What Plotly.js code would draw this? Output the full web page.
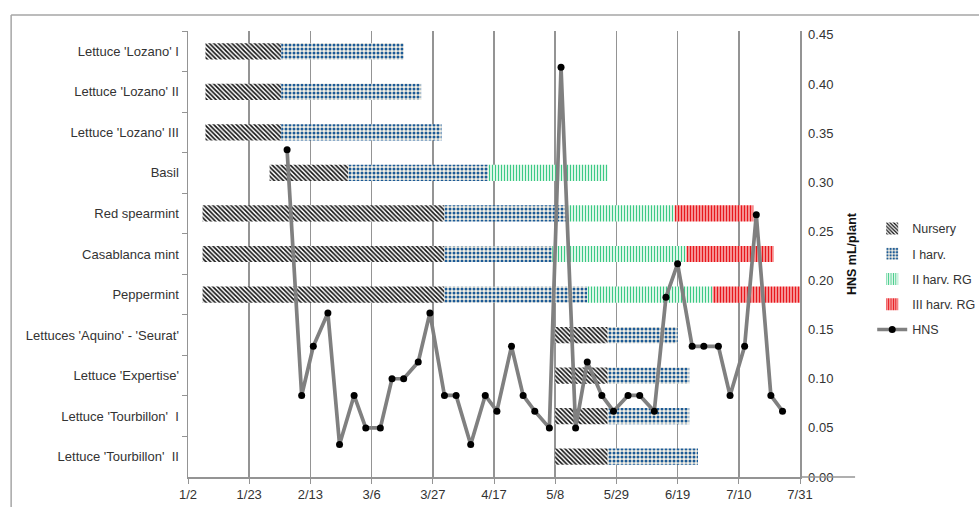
<!DOCTYPE html>
<html>
<head>
<meta charset="utf-8">
<script src="https://cdn.plot.ly/plotly-3.0.1.min.js"></script>
<style>html,body{margin:0;padding:0;background:#fff;}#chart{width:979px;height:507px;}</style>
</head>
<body>
<div id="chart"></div>
<script>
// ---- data ----
const crops = ["Lettuce 'Lozano' I", "Lettuce 'Lozano' II", "Lettuce 'Lozano' III", "Basil",
  "Red spearmint", "Casablanca mint", "Peppermint", "Lettuces 'Aquino' - 'Seurat'",
  "Lettuce 'Expertise'", "Lettuce 'Tourbillon'  I", "Lettuce 'Tourbillon'  II"];
const nurseryStart = ["2019-01-08","2019-01-08","2019-01-08","2019-01-30","2019-01-07","2019-01-07","2019-01-07","2019-05-08","2019-05-08","2019-05-08","2019-05-08"];
const nurseryEnd   = ["2019-02-03","2019-02-03","2019-02-03","2019-02-26","2019-03-31","2019-03-31","2019-03-31","2019-05-26","2019-05-26","2019-05-26","2019-05-26"];
const harv1End     = ["2019-03-17","2019-03-23","2019-03-30","2019-04-15","2019-05-12","2019-05-07","2019-05-19","2019-06-19","2019-06-23","2019-06-23","2019-06-26"];
const harv2End     = [null,null,null,"2019-05-26","2019-06-18","2019-06-22","2019-07-01",null,null,null,null];
const harv3End     = [null,null,null,null,"2019-07-15","2019-07-22","2019-07-31",null,null,null,null];

const hnsDates = ["2019-02-05","2019-02-10","2019-02-14","2019-02-19","2019-02-23","2019-02-28","2019-03-04","2019-03-09",
  "2019-03-13","2019-03-17","2019-03-22","2019-03-26","2019-03-31","2019-04-04","2019-04-09","2019-04-14",
  "2019-04-18","2019-04-23","2019-04-27","2019-05-01","2019-05-06","2019-05-10","2019-05-15","2019-05-19",
  "2019-05-24","2019-05-28","2019-06-02","2019-06-06","2019-06-11","2019-06-15","2019-06-19","2019-06-24",
  "2019-06-28","2019-07-03","2019-07-07","2019-07-12","2019-07-16","2019-07-21","2019-07-25"];
const hnsValues = [0.333,0.083,0.133,0.167,0.033,0.083,0.050,0.050,
  0.100,0.100,0.117,0.167,0.083,0.083,0.033,0.083,
  0.067,0.133,0.083,0.067,0.050,0.417,0.050,0.117,
  0.083,0.067,0.083,0.083,0.067,0.183,0.217,0.133,
  0.133,0.133,0.083,0.133,0.267,0.083,0.067];

const xTickStart = "2019-01-02";
const xEnd = "2019-07-31";

// ---- build ----
const ms = d => Date.parse(d + "T00:00:00Z");
function phase(starts, ends) {
  const y = [], base = [], x = [];
  for (let i = 0; i < crops.length; i++) {
    if (starts[i] && ends[i]) { y.push(crops[i]); base.push(starts[i]); x.push(ms(ends[i]) - ms(starts[i])); }
  }
  return {y, base, x};
}
const FONT = "'Liberation Sans', Arial, sans-serif";
const BW = 0.4;
function barTrace(name, p, pat) {
  return {type: "bar", orientation: "h", name: name, y: p.y, base: p.base, x: p.x,
    width: p.y.map(() => BW), xaxis: "x", yaxis: "y", legendgroup: name,
    marker: {color: pat.bg, line: {width: 0}, pattern: pat}, hoverinfo: "skip"};
}
const traces = [
  barTrace("Nursery", phase(nurseryStart, nurseryEnd), {shape: "\\", fgcolor: "#111111", bgcolor: "#ffffff", size: 3.2, solidity: 0.5, fillmode: "replace"}),
  barTrace("I harv.", phase(nurseryEnd, harv1End), {shape: ".", fgcolor: "#1c5a96", bgcolor: "#f4f0e4", size: 4, solidity: 0.45, fillmode: "replace"}),
  barTrace("II harv. RG", phase(harv1End, harv2End), {shape: "|", fgcolor: "#3cc985", bgcolor: "#ddf6e8", size: 3, solidity: 0.35, fillmode: "replace"}),
  barTrace("III harv. RG", phase(harv2End, harv3End), {shape: "|", fgcolor: "#e8161c", bgcolor: "#f8a9aa", size: 3, solidity: 0.45, fillmode: "replace"}),
  {type: "scatter", mode: "lines+markers", name: "HNS", x: hnsDates, y: hnsValues, xaxis: "x", yaxis: "y2",
   legendgroup: "HNS", line: {color: "#808080", width: 3.7}, marker: {color: "#000000", size: 7}, hoverinfo: "skip"}
];

const layout = {
  width: 979, height: 507,
  margin: {l: 188, r: 179, t: 31, b: 30, pad: 0, autoexpand: false},
  paper_bgcolor: "#ffffff", plot_bgcolor: "#ffffff",
  font: {family: FONT, size: 12, color: "#333333"},
  barmode: "overlay",
  showlegend: true,
  legend: {x: 1.118, y: 0.59, xanchor: "left", yanchor: "top", traceorder: "grouped", tracegroupgap: 6,
    font: {family: FONT, size: 12.5, color: "#333333"}, bgcolor: "rgba(0,0,0,0)", itemwidth: 30},
  xaxis: {type: "date", range: [xTickStart, xEnd], tick0: xTickStart, dtick: 21 * 86400000,
    tickformat: "%-m/%-d", showgrid: true, gridcolor: "#949494", gridwidth: 1.5,
    showline: true, linecolor: "#949494", linewidth: 1.5, ticks: "outside", ticklen: 5, tickcolor: "#949494",
    tickfont: {family: FONT, size: 13, color: "#333333"}, zeroline: false, fixedrange: true, automargin: false},
  yaxis: {type: "category", categoryorder: "array", categoryarray: crops, range: [10.5, -0.5],
    showgrid: false, showline: true, linecolor: "#949494", linewidth: 1.5, ticks: "outside", ticklen: 5,
    tickcolor: "#949494", tickson: "boundaries", tickfont: {family: FONT, size: 13, color: "#333333"},
    ticklabelstandoff: 5, fixedrange: true, automargin: false},
  yaxis2: {overlaying: "y", side: "right", range: [0, 0.454], dtick: 0.05, tick0: 0, tickformat: ".2f",
    showgrid: false, zeroline: false, showline: true, linecolor: "#949494", linewidth: 1.5, ticks: "",
    tickfont: {family: FONT, size: 13, color: "#333333"}, ticklabelstandoff: 4,
    title: {text: "<b>HNS mL/plant</b>", font: {family: FONT, size: 12.5, color: "#111111"}, standoff: 15},
    fixedrange: true, automargin: false},
  shapes: [
    {type: "line", xref: "paper", yref: "paper", x0: -0.289, x1: -0.289, y0: 1.036, y1: -0.1, line: {color: "#a6a6a6", width: 1.5}},
    {type: "line", xref: "paper", yref: "paper", x0: -0.289, x1: 1.32, y0: 1.036, y1: 1.036, line: {color: "#a6a6a6", width: 1.5}},
    {type: "line", xref: "paper", yref: "paper", x0: 1, x1: 1.09, y0: 0, y1: 0, line: {color: "#949494", width: 1.5}}
  ]
};
Plotly.newPlot("chart", traces, layout, {staticPlot: true, displayModeBar: false});
</script>
</body>
</html>
